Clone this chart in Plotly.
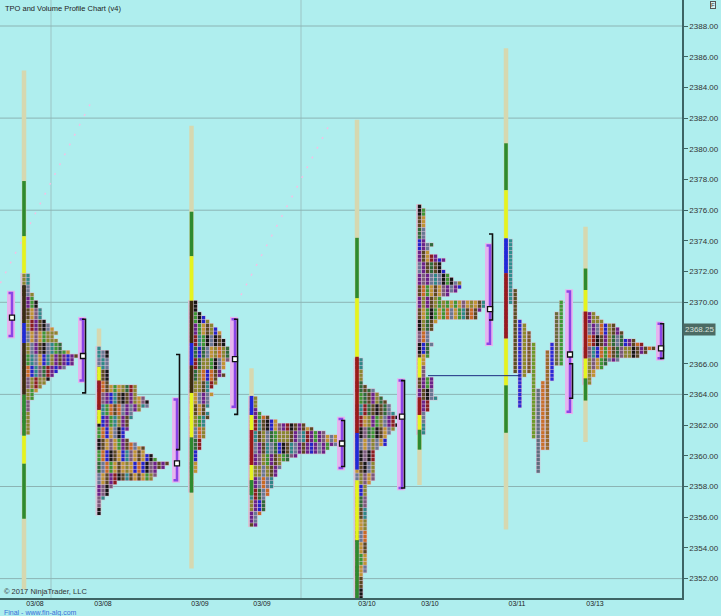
import plotly.graph_objects as go

# ---------------- data ----------------
date_labels = ["03/08", "03/08", "03/09", "03/09", "03/10", "03/10", "03/11", "03/13"]
date_pos = [35, 103, 200, 262, 367, 430, 517, 595]

price_ticks = [2352, 2354, 2356, 2358, 2360, 2362, 2364, 2366, 2368, 2370,
               2372, 2374, 2376, 2378, 2380, 2382, 2384, 2386, 2388]
price_grid = [2352, 2358, 2364, 2370, 2376, 2382, 2388]
time_grid = [51, 301]
last_price = 2368.25

# collapsed TPO profiles (cells per 0.25 price row, from the top row down)
prof_x = [24, 99, 191.5, 251.5, 357, 419.5, 585.5]
prof_top = [2371.75, 2367.0, 2370.0, 2363.75, 2366.25, 2376.25, 2369.25]
prof_A = [2, 2, 2, 2, 2, 3, 3, 4, 4, 5, 5, 5, 6, 7, 8, 9, 8, 9, 10, 10, 12, 14, 13, 13, 11,
          9, 8, 7, 6, 5, 4, 3, 3, 2, 2, 2, 2, 2, 2, 2, 2, 2]
prof_B = [1, 3, 3, 3, 3, 3, 3, 3, 3, 3, 10, 10, 10, 12, 13, 13, 11, 9, 9, 8, 8, 8, 7, 7, 8,
          10, 12, 12, 14, 15, 18, 17, 15, 15, 14, 5, 4, 3, 3, 2, 1, 1, 1, 1]
prof_C = [2, 2, 2, 3, 4, 5, 6, 7, 8, 8, 9, 9, 10, 10, 11, 11, 9, 9, 8, 9, 7, 7, 6, 5, 6,
          5, 5, 5, 4, 5, 5, 4, 4, 4, 4, 4, 3, 3, 3, 2, 2, 2, 2, 2, 2, 1, 1, 1, 1, 1]
prof_D = [2, 2, 2, 2, 3, 5, 7, 14, 16, 19, 22, 22, 22, 20, 19, 12, 10, 8, 8, 7, 7, 6, 6, 6,
          5, 5, 4, 4, 4, 4, 3, 2, 2, 2]
prof_E = [2, 2, 2, 2, 2, 2, 2, 3, 5, 6, 7, 8, 9, 9, 10, 11, 10, 11, 10, 9, 8, 8, 8, 6, 5,
          5, 5, 5, 5, 5, 5, 5, 4, 3, 3, 3, 3, 3, 3, 3, 3, 3, 3, 3, 3, 3, 3, 3, 3, 3, 3, 3,
          3, 3, 3, 3, 2, 2, 2, 2, 2, 2, 2, 2]
prof_F = [1, 2, 2, 2, 2, 2, 2, 2, 2, 2, 4, 3, 3, 5, 7, 6, 6, 7, 8, 9, 11, 11, 10, 8, 6,
          17, 17, 16, 15, 15, 5, 4, 4, 3, 3, 3, 4, 3, 3, 3, 2, 2, 2, 2, 2, 4, 4, 4, 4, 4,
          5, 3, 3, 3, 2, 2, 2, 2, 2, 2]
prof_H = [3, 4, 5, 8, 9, 10, 10, 13, 15, 18, 16, 14, 9, 6, 5, 3, 3, 2, 2]
prof_widths = [prof_A, prof_B, prof_C, prof_D, prof_E, prof_F, prof_H]

# split profile (03/11): one column per period, price range of each
split_x = 506
split_hi = [2374.0, 2374.0, 2370.75, 2368.75, 2368.5, 2368.0, 2367.25, 2364.25, 2364.75,
            2366.75, 2367.25, 2369.25, 2370.0]
split_lo = [2367.75, 2370.0, 2365.5, 2363.25, 2365.25, 2365.5, 2361.25, 2359.0, 2360.5,
            2360.5, 2365.0, 2366.0, 2366.0]

# session range bars (x, high, low) and their marked sub-ranges
bar_x = [24, 99, 191.5, 251.5, 357, 419.5, 506, 585.5]
bar_hi = [2385.1, 2368.3, 2381.5, 2365.7, 2381.9, 2376.4, 2386.55, 2374.93]
bar_lo = [2351.3, 2356.4, 2352.65, 2355.4, 2350.5, 2358.1, 2355.2, 2360.9]
bar_parts = [
    [("ext", 2377.9, 2374.3), ("ib", 2374.3, 2371.9), ("dk", 2371.1, 2368.65),
     ("bl", 2368.65, 2367.35), ("dk", 2367.35, 2364.0), ("ext", 2364.0, 2361.3),
     ("ib", 2361.3, 2359.5), ("ext", 2359.5, 2355.9)],
    [("ib", 2365.8, 2364.9), ("rd", 2364.9, 2363.0), ("ib", 2363.0, 2362.1)],
    [("ext", 2375.9, 2373.0), ("ib", 2373.0, 2370.1), ("dk", 2370.1, 2367.35),
     ("bl", 2367.35, 2365.9), ("dk", 2365.9, 2364.1), ("ib", 2364.1, 2361.2),
     ("ext", 2361.2, 2357.6)],
    [("bl", 2363.9, 2362.66), ("ib", 2362.66, 2361.68), ("rd", 2361.68, 2359.4),
     ("ib", 2359.4, 2358.42), ("ext", 2358.42, 2357.44)],
    [("ext", 2374.2, 2370.26), ("ib", 2370.26, 2366.45), ("rd", 2366.45, 2361.5),
     ("bl", 2361.5, 2359.1), ("ib", 2358.4, 2354.5), ("ext", 2354.5, 2350.5)],
    [("ib", 2366.4, 2365.1), ("rd", 2363.8, 2362.66), ("ib", 2362.66, 2361.7),
     ("ext", 2361.7, 2360.4)],
    [("ext", 2380.36, 2377.3), ("ib", 2377.3, 2374.17), ("bl", 2374.17, 2371.9),
     ("rd", 2371.9, 2367.65), ("ib", 2367.65, 2364.6), ("ext", 2364.6, 2361.5)],
    [("ext", 2372.2, 2370.8), ("ib", 2370.8, 2369.4), ("rd", 2369.4, 2366.35),
     ("ib", 2366.35, 2365.05), ("ext", 2365.05, 2363.6)],
]

# value-area / initial-balance brackets and POC per session
va_x = [12, 83, 177, 235, 342, 402, 490, 570, 661]
va_hi = [2370.6, 2368.9, 2363.66, 2368.9, 2362.4, 2364.9, 2373.7, 2370.7, 2368.6]
va_lo = [2367.8, 2364.9, 2358.4, 2363.2, 2359.2, 2357.9, 2367.3, 2362.87, 2366.35]
ib_hi = [None, 2368.9, 2366.6, 2368.9, 2362.3, 2364.9, 2374.45, 2366.0, 2368.6]
ib_lo = [None, 2364.1, 2360.4, 2362.7, 2359.3, 2357.9, 2368.85, 2363.75, 2366.35]
poc = [2369.0, 2366.5, 2359.5, 2366.3, 2360.8, 2362.55, 2369.55, 2366.6, 2367.0]

# naked POC line
npoc_x = [428, 520]
npoc_y = 2365.22

# faint dotted trend lines
trend1_x, trend1_y = [90, 0], [2382.9, 2371.2]
trend2_x, trend2_y = [328, 238], [2381.4, 2370.1]

# ---------------- style ----------------
BG = "#AFEEEE"
TICK = 0.25
CELL = 4.0
SPLIT_STEP = 4.6
PALETTE = ["#8a8630", "#bf9434", "#5a4822", "#6a2288", "#2424c8", "#2f8888",
           "#6a7894", "#161616", "#8a1e1e", "#c86a26", "#3f9634", "#8a8630",
           "#5a4822", "#6a2288", "#6a7894", "#bf9434", "#7a5a7a", "#2f6a3a"]
SPLIT_COLORS = ["#2a3ad0", "#2f8f8f", "#5a4e22", "#2a2ad0", "#8f8a2a", "#7a5a2a",
                "#6e9a2a", "#5e6e7e", "#c8702a", "#9a6a2a", "#2a2ad8", "#6a6a3a", "#3f9a34"]
KIND_COLOR = {"ext": "#2e8a2e", "ib": "#e4f41e", "dk": "#3a2c12", "bl": "#2028d8",
              "rd": "#9a1a1a"}
PALE = "#d6d8b0"
GAP = "#d9c4d6"
PURPLE = "#8b45e6"
VA_BG = "#e6b4ee"
FONT = "Liberation Sans"


def cell_color(p, c, k):
    v = (p * 73856093) ^ (c * 19349663) ^ ((k // 3) * 83492791)
    return PALETTE[v % len(PALETTE)]


fig = go.Figure()

# pale session range bars
px_, py_ = [], []
for x, hi, lo in zip(bar_x, bar_hi, bar_lo):
    px_ += [x, x, None]
    py_ += [hi, lo, None]
fig.add_trace(go.Scatter(x=px_, y=py_, mode="lines", line=dict(color=PALE, width=4.5),
                         hoverinfo="skip", showlegend=False))

# trend dotted lines
for tx, ty in [(trend1_x, trend1_y), (trend2_x, trend2_y)]:
    fig.add_trace(go.Scatter(x=tx, y=ty, mode="lines",
                             line=dict(color="#f4c0e4", width=1.5, dash="2px,9px"),
                             hoverinfo="skip", showlegend=False))

# gap/background rows behind cells
gx, gy = [], []
for x0, top, widths in zip(prof_x, prof_top, prof_widths):
    for k, w in enumerate(widths):
        y = top - k * TICK
        gx += [x0 - 3.5, x0 + CELL * (w - 1) + 2.2, None]
        gy += [y, y, None]
for j, (hi, lo) in enumerate(zip(split_hi, split_lo)):
    x = split_x + j * SPLIT_STEP
    gx += [x, x, None]
    gy += [hi + 0.14, lo - 0.14, None]
fig.add_trace(go.Scatter(x=gx, y=gy, mode="lines", line=dict(color=GAP, width=4.4),
                         hoverinfo="skip", showlegend=False))

# TPO cells
cx, cy, cc = [], [], []
for p, (x0, top, widths) in enumerate(zip(prof_x, prof_top, prof_widths)):
    for k, w in enumerate(widths):
        for c in range(w):
            cx.append(x0 + c * CELL)
            cy.append(top - k * TICK)
            cc.append(cell_color(p, c, k))
for j, (hi, lo) in enumerate(zip(split_hi, split_lo)):
    n = int(round((hi - lo) / TICK)) + 1
    for k in range(n):
        cx.append(split_x + j * SPLIT_STEP)
        cy.append(hi - k * TICK)
        cc.append(SPLIT_COLORS[j])
fig.add_trace(go.Scatter(x=cx, y=cy, mode="markers",
                         marker=dict(symbol="square", size=3.3, color=cc, line=dict(width=0)),
                         hoverinfo="skip", showlegend=False))

# coloured parts of the range bars
for kind, col in KIND_COLOR.items():
    sx, sy = [], []
    for x, parts in zip(bar_x, bar_parts):
        for kd, hi, lo in parts:
            if kd == kind:
                sx += [x, x, None]
                sy += [hi, lo, None]
    fig.add_trace(go.Scatter(x=sx, y=sy, mode="lines", line=dict(color=col, width=3.6),
                             hoverinfo="skip", showlegend=False))

# value-area brackets
bx, by = [], []
for x, hi, lo in zip(va_x, va_hi, va_lo):
    bx += [x - 1, x - 1, None]
    by += [hi + 0.15, lo - 0.15, None]
fig.add_trace(go.Scatter(x=bx, y=by, mode="lines", line=dict(color=VA_BG, width=8),
                         hoverinfo="skip", showlegend=False))
vx, vy = [], []
for x, hi, lo in zip(va_x, va_hi, va_lo):
    vx += [x - 3.5, x, x, x - 3.5, None]
    vy += [hi, hi, lo, lo, None]
fig.add_trace(go.Scatter(x=vx, y=vy, mode="lines", line=dict(color=PURPLE, width=2.5),
                         hoverinfo="skip", showlegend=False))
kx, ky = [], []
for x, hi, lo in zip(va_x, ib_hi, ib_lo):
    if hi is None:
        continue
    kx += [x - 1, x + 2.5, x + 2.5, x - 1, None]
    ky += [hi, hi, lo, lo, None]
fig.add_trace(go.Scatter(x=kx, y=ky, mode="lines", line=dict(color="#101010", width=1.6),
                         hoverinfo="skip", showlegend=False))
fig.add_trace(go.Scatter(x=va_x, y=poc, mode="markers",
                         marker=dict(symbol="square", size=5, color="white",
                                     line=dict(color="#101010", width=1.3)),
                         hoverinfo="skip", showlegend=False))

# naked POC
fig.add_trace(go.Scatter(x=npoc_x, y=[npoc_y, npoc_y], mode="lines",
                         line=dict(color="#1c2c80", width=1),
                         hoverinfo="skip", showlegend=False))

shapes = []
for g in price_grid:
    shapes.append(dict(type="line", xref="x", yref="y", x0=0, x1=682, y0=g, y1=g,
                       line=dict(color="#8cb4b4", width=1), layer="below"))
for t in time_grid:
    shapes.append(dict(type="line", xref="x", yref="paper", x0=t, x1=t, y0=0, y1=1,
                       line=dict(color="#9cc4c4", width=1), layer="below"))

tick_text = [("" if v == 2368 else f"{v:.2f}") for v in price_ticks]

fig.update_layout(
    width=721, height=616,
    margin=dict(l=0, r=39, t=0, b=18),
    paper_bgcolor=BG, plot_bgcolor=BG,
    font=dict(family=FONT, size=8, color="#222222"),
    shapes=shapes,
    showlegend=False,
    xaxis=dict(range=[0, 682], tickvals=date_pos, ticktext=date_labels,
               showgrid=False, zeroline=False, showline=True, linecolor="#3d6464",
               linewidth=2, ticks="", tickfont=dict(size=7, color="#222222"),
               ticklabelstandoff=-2, fixedrange=True),
    yaxis=dict(range=[2350.736, 2389.694], side="right", tickvals=price_ticks,
               ticktext=tick_text,
               showgrid=False, zeroline=False, showline=True, linecolor="#3d6464",
               linewidth=1.5, ticks="outside", ticklen=4, tickcolor="#3d6464",
               tickfont=dict(size=8, color="#333333"), fixedrange=True),
    annotations=[
        dict(xref="paper", yref="paper", x=0.004, y=1, xanchor="left", yanchor="top",
             yshift=-2, text="TPO and Volume Profile Chart (v4)", showarrow=False,
             font=dict(size=7.5, color="#222222")),
        dict(xref="paper", yref="paper", x=0.003, y=0, xanchor="left", yanchor="bottom",
             yshift=0, text="© 2017 NinjaTrader, LLC", showarrow=False,
             font=dict(size=7.5, color="#333333")),
        dict(xref="paper", yref="paper", x=0.003, y=0, xanchor="left", yanchor="top",
             yshift=-8.5, text="Final - www.fin-alg.com", showarrow=False,
             font=dict(size=7, color="#3a6fd8")),
        dict(xref="paper", yref="y", x=1, y=last_price, xanchor="left", yanchor="middle",
             xshift=1, text=f"{last_price:.2f}", showarrow=False,
             bgcolor="#4b6b64", borderpad=1, font=dict(size=8, color="#d8e0dc")),
        dict(xref="paper", yref="paper", x=1, y=1, xanchor="left", yanchor="top",
             xshift=28, yshift=-1, text="F", showarrow=False, bordercolor="#555555",
             borderwidth=1, borderpad=0, bgcolor="#d8f2f2",
             font=dict(size=6, color="#333333")),
    ],
)

fig.write_html("out.html", config={"displayModeBar": False},
               post_script="document.body.style.margin='0';document.body.style.padding='0';")
